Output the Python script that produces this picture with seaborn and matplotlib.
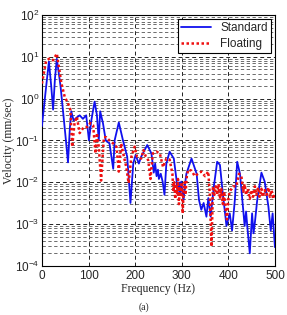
import numpy as np
import pandas as pd
import matplotlib
matplotlib.use('Agg')
import matplotlib.pyplot as plt
import seaborn as sns
from matplotlib.ticker import LogLocator, NullFormatter

# Standard track (blue, solid)
std_freq = [0, 8, 15, 20, 24, 28, 32, 40, 50, 56, 60, 63, 68, 74, 81, 88, 95, 101, 106,
            113, 118, 122, 125, 131, 137, 145, 153, 156, 165, 174, 183, 190, 196, 201,
            208, 213, 226, 235, 240, 243, 246, 249, 251, 255, 259, 263, 267, 274, 283,
            289, 291, 294, 296, 299, 301, 304, 307, 310, 321, 332, 337, 342, 347, 353,
            357, 362, 369, 376, 382, 388, 393, 396, 403, 408, 414, 419, 425, 430, 435,
            438, 441, 446, 451, 454, 457, 462, 471, 478, 486, 491, 495, 500]
std_vel = [0.22, 1.5, 7.7, 2.0, 0.55, 3.0, 9.0, 2.0, 0.15, 0.03, 0.2, 0.5, 0.3, 0.35,
           0.4, 0.33, 0.4, 0.1, 0.3, 0.85, 0.41, 0.1, 0.5, 0.26, 0.1, 0.085, 0.021,
           0.1, 0.27, 0.1, 0.041, 0.0032, 0.028, 0.045, 0.028, 0.041, 0.078, 0.049,
           0.017, 0.028, 0.014, 0.02, 0.012, 0.016, 0.0104, 0.005, 0.028, 0.054,
           0.037, 0.011, 0.006, 0.01, 0.005, 0.0104, 0.006, 0.0038, 0.009, 0.016,
           0.037, 0.016, 0.0038, 0.0022, 0.0032, 0.0015, 0.0042, 0.0015, 0.008,
           0.031, 0.026, 0.0055, 0.0018, 0.0009, 0.0018, 0.0007, 0.0038, 0.031,
           0.016, 0.0038, 0.0009, 0.002, 0.0008, 0.0002, 0.0018, 0.0006, 0.0011,
           0.0038, 0.017, 0.0104, 0.0026, 0.0007, 0.0018, 0.00028]

# Floating track (red, dotted)
flt_freq = [0, 9, 16, 24, 32, 42, 49, 56, 61, 65, 70, 75, 81, 90, 97, 104, 110, 115,
            118, 122, 127, 133, 138, 145, 153, 160, 165, 170, 176, 181, 186, 192, 199,
            204, 213, 218, 223, 228, 233, 238, 246, 253, 260, 267, 274, 280, 282, 284,
            286, 288, 290, 292, 294, 296, 298, 300, 302, 304, 306, 308, 311, 314, 321,
            328, 335, 342, 350, 357, 360, 364, 367, 370, 373, 376, 379, 382, 385, 388,
            391, 394, 397, 400, 403, 410, 417, 423, 428, 432, 435, 438, 442, 446, 450,
            453, 457, 460, 464, 467, 471, 474, 478, 482, 486, 489, 493, 496, 500]
flt_vel = [2.3, 8.0, 9.1, 8.3, 12.0, 2.3, 1.1, 0.78, 0.54, 0.071, 0.26, 0.37, 0.15,
           0.21, 0.21, 0.26, 0.23, 0.049, 0.15, 0.071, 0.011, 0.12, 0.12, 0.1, 0.085,
           0.071, 0.018, 0.085, 0.041, 0.023, 0.0096, 0.041, 0.071, 0.041, 0.037,
           0.059, 0.041, 0.034, 0.012, 0.049, 0.054, 0.049, 0.023, 0.037, 0.035,
           0.016, 0.006, 0.01, 0.004, 0.009, 0.005, 0.012, 0.003, 0.008, 0.0045,
           0.01, 0.0018, 0.006, 0.01, 0.005, 0.014, 0.02, 0.019, 0.014, 0.016,
           0.018, 0.014, 0.018, 0.0055, 0.00029, 0.008, 0.005, 0.008, 0.005, 0.009,
           0.004, 0.007, 0.003, 0.006, 0.0025, 0.0013, 0.004, 0.006, 0.008, 0.008,
           0.016, 0.014, 0.006, 0.009, 0.005, 0.007, 0.004, 0.0065, 0.0045, 0.008,
           0.005, 0.0075, 0.0045, 0.007, 0.0045, 0.0065, 0.005, 0.0075, 0.0045,
           0.0065, 0.004, 0.0055]

x_ticks = [0, 100, 200, 300, 400, 500]

sns.set_style('white')
plt.rcParams['font.family'] = ['Liberation Sans', 'DejaVu Sans']
plt.rcParams['mathtext.fontset'] = 'custom'
plt.rcParams['mathtext.rm'] = 'Liberation Sans'

fig = plt.figure(figsize=(2.87, 3.15), dpi=100)
ax = fig.add_axes([0.146, 0.156, 0.812, 0.796])

df_std = pd.DataFrame({'f': std_freq, 'v': std_vel})
df_flt = pd.DataFrame({'f': flt_freq, 'v': flt_vel})
sns.lineplot(data=df_std, x='f', y='v', ax=ax, color='#1010ee', lw=1.3,
             label='Standard', zorder=3)
sns.lineplot(data=df_flt, x='f', y='v', ax=ax, color='#ee1010', lw=1.8,
             linestyle=(0, (1, 1)), label='Floating', zorder=4)

ax.set_yscale('log')
ax.set_xlim(0, 500)
ax.set_ylim(1e-4, 1e2)
ax.set_xticks(x_ticks)
ax.yaxis.set_major_locator(LogLocator(base=10, numticks=10))
ax.yaxis.set_minor_locator(LogLocator(base=10, subs=np.arange(2, 10), numticks=20))
ax.yaxis.set_minor_formatter(NullFormatter())
ax.grid(True, which='major', color='#222222', linestyle=(0, (4, 3)), lw=0.7)
ax.grid(True, which='minor', axis='y', color='#555555', linestyle=(0, (4, 3)), lw=0.6)
for s in ax.spines.values():
    s.set_color('black')
    s.set_linewidth(0.8)
ax.tick_params(axis='both', which='major', labelsize=8.5, direction='in', length=3, pad=2)
ax.tick_params(axis='x', which='major', pad=3)
ax.tick_params(axis='y', which='minor', direction='in', length=1.5)

ax.set_xlabel('Frequency (Hz)', family='Liberation Serif', fontsize=8.5, labelpad=1)
ax.set_ylabel('Velocity (mm/sec)', family='Liberation Serif', fontsize=8.5)
ax.yaxis.set_label_coords(-0.115, 0.5)

leg = ax.legend(loc='upper right', fontsize=8.5, frameon=True, fancybox=False,
                handlelength=2.5, borderaxespad=0.3, borderpad=0.3, labelspacing=0.3)
leg.get_frame().set_edgecolor('black')
leg.get_frame().set_linewidth(0.8)
leg.get_frame().set_alpha(1)

fig.text(0.5, 0.016, '(a)', family='Liberation Serif', fontsize=7, ha='center')

fig.savefig('out.png', dpi=100)
